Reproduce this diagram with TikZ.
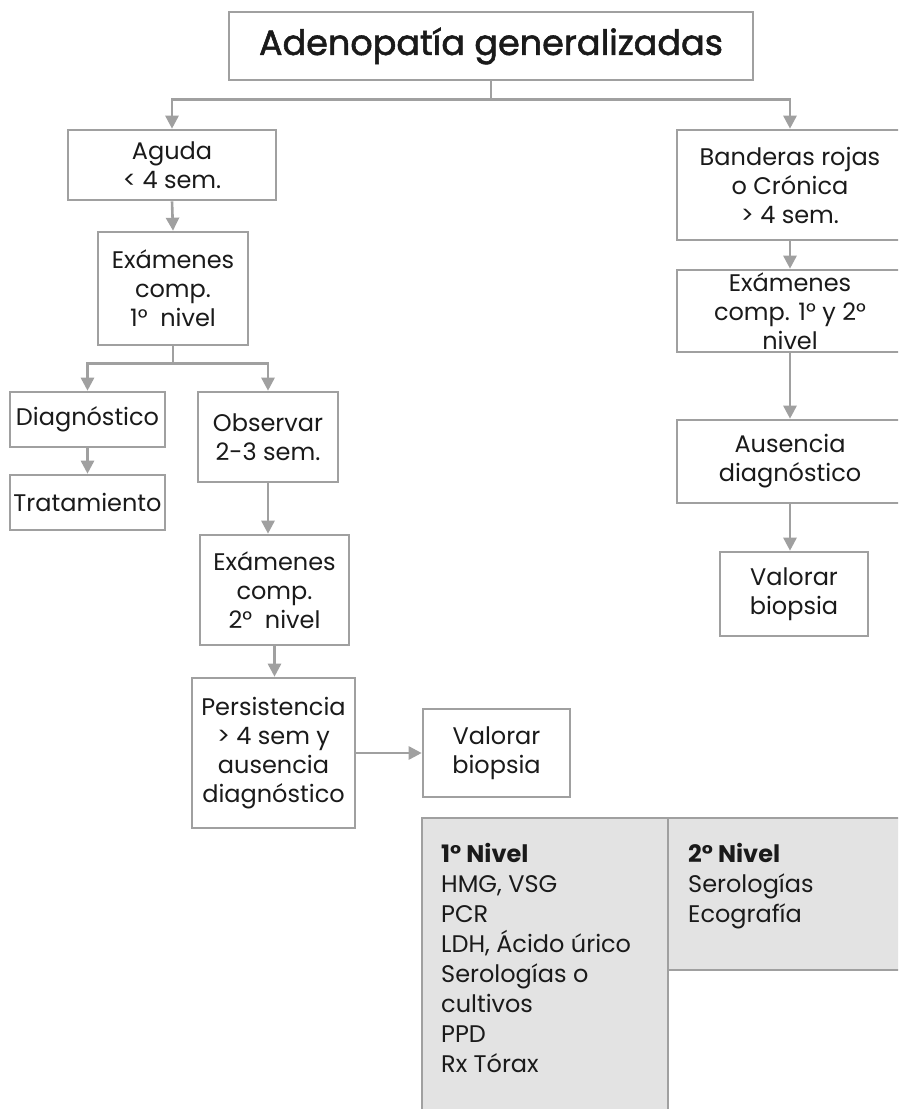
\documentclass[tikz,border=0pt]{standalone}
\usepackage{fontspec}
\setmainfont{Poppins}
\newfontfamily\titlefont{Poppins}[FakeBold=1.6]
\usetikzlibrary{arrows.meta}
\definecolor{lgray}{HTML}{A0A0A0}
\definecolor{cellfill}{HTML}{E3E3E3}
\definecolor{txt}{HTML}{1A1A1A}
\tikzset{
  box/.style={draw=lgray, line width=2.6pt, fill=white, inner sep=0pt, align=center,
    text=txt, font=\fontsize{24}{29}\selectfont},
  arr/.style={draw=lgray, line width=2.6pt, -{Triangle[width=13pt,length=13pt]}},
  ln/.style={draw=lgray, line width=2.6pt},
  cell/.style={draw=lgray, line width=2.6pt, fill=cellfill},
  celltxt/.style={anchor=north west, inner sep=0pt, align=left, text=txt,
    font=\fontsize{24}{30}\selectfont}
}
\begin{document}
\begin{tikzpicture}[x=1pt,y=-1pt]
\useasboundingbox (0,0) rectangle (898,1109);
\clip (0,0) rectangle (898,1109);
\fill[white] (0,0) rectangle (898,1109);
% nodes
\node[box, minimum width=524pt, minimum height=68pt, font=\titlefont\fontsize{35}{40}\selectfont] (title) at (491,46) {Adenopatía generalizadas};
\node[box, minimum width=208pt, minimum height=70pt] (aguda) at (172,165) {Aguda\\< 4 sem.};
\node[box, minimum width=150pt, minimum height=113pt] (exa) at (173,288.5) {Exámenes\\comp.\\1°~ nivel};
\node[box, minimum width=155pt, minimum height=55pt] (diag) at (87.5,419.5) {Diagnóstico};
\node[box, minimum width=155pt, minimum height=55pt] (trat) at (87.5,502.5) {Tratamiento};
\node[box, minimum width=140pt, minimum height=90pt] (obs) at (268,437) {Observar\\2-3 sem.};
\node[box, minimum width=149pt, minimum height=110pt] (exb) at (274.5,590) {Exámenes\\comp.\\2°~ nivel};
\node[box, minimum width=163pt, minimum height=150pt] (pers) at (273.5,753) {Persistencia\\> 4 sem y\\ausencia\\diagnóstico};
\node[box, minimum width=147pt, minimum height=88pt] (vala) at (496.5,753) {Valorar\\biopsia};
\node[box, minimum width=226pt, minimum height=110pt] (band) at (790,185) {Banderas rojas\\o Crónica\\> 4 sem.};
\node[box, minimum width=226pt, minimum height=82pt] (exc) at (790,311) {Exámenes\\comp. 1° y 2°\\nivel};
\node[box, minimum width=226pt, minimum height=83pt] (aus) at (790,461.5) {Ausencia\\diagnóstico};
\node[box, minimum width=148pt, minimum height=84pt] (valb) at (794,594) {Valorar\\biopsia};
% connectors
\draw[arr] (title.south) -- ++(0,18) -| (aguda.north);
\draw[arr] (title.south) -- ++(0,18) -| (band.north);
\draw[arr] (aguda.south) -- (exa.north);
\draw[arr] (exa.south) -- ++(0,17) -| (diag.north);
\draw[arr] (exa.south) -- ++(0,17) -| (obs.north);
\draw[arr] (diag.south) -- (trat.north);
\draw[arr] (obs.south) -- (obs.south |- exb.north);
\draw[arr] (exb.south) -- (exb.south |- pers.north);
\draw[arr] (pers.east) -- (vala.west);
\draw[arr] (band.south) -- (exc.north);
\draw[arr] (exc.south) -- (aus.north);
\draw[arr] (aus.south) -- (aus.south |- valb.north);
% table
\draw[cell] (422,818) rectangle (668,1120);
\draw[cell] (668,818) rectangle (910,970);
\node[celltxt] (niv1) at (441,843) {\textbf{1° Nivel}\\HMG, VSG\\PCR\\LDH, Ácido úrico\\Serologías o\\cultivos\\PPD\\Rx Tórax};
\node[celltxt] (niv2) at (688,843) {\textbf{2° Nivel}\\Serologías\\Ecografía};
\end{tikzpicture}
\end{document}
